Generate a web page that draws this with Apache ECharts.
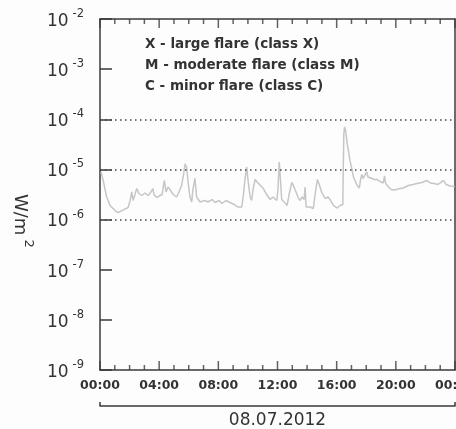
<!DOCTYPE html>
<html><head><meta charset="utf-8">
<script src="https://cdn.jsdelivr.net/npm/echarts@6/dist/echarts.min.js"></script>
<style>html,body{margin:0;padding:0;background:#fdfdfd}#c{width:456px;height:429px}</style>
</head><body><div id="c"></div>
<script>
// GOES X-ray flux, 08.07.2012 (W/m^2)
const times = ["00:04","00:12","00:27","00:41","01:01","01:13","01:21","01:37","01:54","02:02","02:09","02:14","02:22","02:29","02:38","02:49","03:03","03:15","03:27","03:34","03:39","03:50","04:03","04:12","04:21","04:28","04:36","04:44","04:57","05:11","05:20","05:31","05:39","05:45","05:51","05:58","06:05","06:12","06:17","06:25","06:32","06:46","07:06","07:18","07:34","07:47","08:03","08:15","08:31","08:47","09:04","09:20","09:35","09:42","09:48","09:55","10:00","10:09","10:15","10:21","10:29","10:37","10:45","11:01","11:16","11:30","11:42","11:57","12:02","12:07","12:12","12:17","12:31","12:39","12:47","12:58","13:07","13:15","13:23","13:31","13:40","13:48","13:52","13:56","14:12","14:25","14:34","14:42","14:48","14:59","15:13","15:25","15:33","15:47","16:02","16:14","16:25","16:27","16:29","16:32","16:36","16:43","16:54","17:02","17:08","17:21","17:32","17:37","17:42","17:47","17:55","18:02","18:07","18:19","18:32","18:43","18:56","19:09","19:14","19:18","19:30","19:41","19:53","20:09","20:29","20:51","21:10","21:26","21:46","22:05","22:19","22:35","22:51","23:03","23:13","23:24","23:40","23:59"];
const flux = [8.91e-6,6.31e-6,2.82e-6,1.91e-6,1.51e-6,1.38e-6,1.48e-6,1.58e-6,1.74e-6,2.40e-6,3.55e-6,2.40e-6,3.16e-6,4.17e-6,3.31e-6,3.02e-6,3.39e-6,3.02e-6,3.55e-6,4.17e-6,3.16e-6,2.75e-6,3.02e-6,3.16e-6,6.03e-6,3.55e-6,4.47e-6,3.98e-6,3.16e-6,2.82e-6,3.55e-6,4.79e-6,7.94e-6,1.29e-5,1.12e-5,5.25e-6,2.82e-6,2.24e-6,3.98e-6,6.61e-6,2.82e-6,2.24e-6,2.40e-6,2.24e-6,2.51e-6,2.19e-6,2.40e-6,2.09e-6,2.40e-6,2.19e-6,2.00e-6,1.78e-6,1.78e-6,3.16e-6,6.31e-6,1.12e-5,6.31e-6,2.82e-6,2.40e-6,3.98e-6,6.31e-6,5.62e-6,5.37e-6,4.27e-6,3.16e-6,2.51e-6,2.82e-6,2.40e-6,3.98e-6,1.41e-5,6.31e-6,2.51e-6,2.14e-6,1.91e-6,3.16e-6,5.50e-6,4.47e-6,3.55e-6,2.82e-6,2.40e-6,2.82e-6,2.51e-6,4.47e-6,1.78e-6,1.78e-6,1.66e-6,3.55e-6,6.31e-6,5.25e-6,3.55e-6,2.63e-6,2.82e-6,2.51e-6,1.91e-6,1.70e-6,1.91e-6,2.00e-6,1.26e-5,5.0e-5,7.08e-5,6.03e-5,3.24e-5,1.51e-5,1.0e-5,7.08e-6,5.01e-6,4.27e-6,6.31e-6,7.94e-6,6.61e-6,7.08e-6,8.91e-6,7.08e-6,6.76e-6,6.31e-6,6.31e-6,5.75e-6,5.37e-6,7.41e-6,5.37e-6,4.47e-6,3.98e-6,3.89e-6,4.07e-6,4.27e-6,4.79e-6,5.01e-6,5.25e-6,5.50e-6,6.03e-6,5.37e-6,5.25e-6,5.01e-6,5.50e-6,6.03e-6,5.01e-6,4.68e-6,4.57e-6];
const xTickLabels = ["00:00","04:00","08:00","12:00","16:00","20:00","00:00"];
const majorTickMinutes = [0, 240, 480, 720, 960, 1200, 1440];
const minorTickMinutes = [60,120,180, 300,360,420, 540,600,660, 780,840,900, 1020,1080,1140, 1260,1320,1380];
const thresholds = [1e-4, 1e-5, 1e-6];
const legendLines = ["X - large flare (class X)", "M - moderate flare (class M)", "C - minor flare (class C)"];
const dateLabel = "08.07.2012";
const dayStart = 0, dayEnd = 1440;
const yMin = 1e-9, yMax = 1e-2;

const toMin = t => { const [h, m] = t.split(':').map(Number); return h * 60 + m; };
const seriesData = times.map((t, i) => [toMin(t), flux[i]]);

const axisCol = '#3a3a3a';
const ls = () => ({ color: axisCol, width: 1.5 });
// tick marks: thin rect symbols on a hidden linear 0..1 frame axis (0 = bottom edge, 1 = top edge)
const tickSeries = (mins, edge, len, dir) => ({
  type: 'scatter', xAxisIndex: 0, yAxisIndex: 2, silent: true, clip: false, z: 5,
  symbol: 'rect', symbolSize: [1.5, len], symbolOffset: [0, dir * len / 2],
  itemStyle: { color: axisCol }, emphasis: { disabled: true },
  data: mins.map(m => [m, edge])
});

const chart = echarts.init(document.getElementById('c'));
chart.setOption({
  backgroundColor: '#fdfdfd',
  animation: false,
  grid: { left: 100, right: 1, top: 19, bottom: 59, containLabel: false, outerBoundsMode: 'none' },
  xAxis: [
    { type: 'value', min: dayStart, max: dayEnd, interval: 240, position: 'bottom',
      axisLine: { show: true, onZero: false, lineStyle: ls() },
      axisTick: { show: false }, splitLine: { show: false },
      axisLabel: { margin: 9, color: '#333', fontFamily: 'DejaVu Sans', fontWeight: 'bold', fontSize: 12.5,
        formatter: v => xTickLabels[Math.round(v / 240)] } },
    { type: 'value', min: dayStart, max: dayEnd, interval: 240, position: 'top',
      axisLine: { show: true, onZero: false, lineStyle: ls() },
      axisTick: { show: false }, axisLabel: { show: false }, splitLine: { show: false } },
    { type: 'value', min: dayStart, max: dayEnd, interval: dayEnd, position: 'bottom', offset: 36,
      axisLine: { show: true, onZero: false, lineStyle: ls() },
      axisTick: { show: true, inside: true, length: 4, lineStyle: ls() },
      splitLine: { show: false }, axisLabel: { show: false },
      name: dateLabel, nameLocation: 'middle', nameGap: 6,
      nameTextStyle: { color: '#333', fontFamily: 'DejaVu Sans', fontSize: 17 } }
  ],
  yAxis: [
    { type: 'log', logBase: 10, min: yMin, max: yMax, interval: 1,
      axisLine: { show: true, onZero: false, lineStyle: ls() },
      axisTick: { show: true, inside: true, length: 12, lineStyle: ls() },
      splitLine: { show: false },
      axisLabel: { margin: 16, formatter: v => '{b|10}{e|' + Math.round(Math.log10(v)) + '}',
        rich: { b: { fontSize: 17, color: '#333', fontFamily: 'DejaVu Sans', lineHeight: 22, verticalAlign: 'bottom' },
                e: { fontSize: 11.5, color: '#333', fontFamily: 'DejaVu Sans', padding: [0, 0, 0, 4], lineHeight: 14, verticalAlign: 'top' } } } },
    { type: 'log', logBase: 10, min: yMin, max: yMax, position: 'right',
      axisLine: { show: true, onZero: false, lineStyle: ls() },
      axisTick: { show: false }, axisLabel: { show: false }, splitLine: { show: false } },
    { type: 'value', min: 0, max: 1, show: false }
  ],
  graphic: [
    { type: 'text', left: 11, top: 194, rotation: -Math.PI / 2,
      style: { text: '{a|W/m}{s|2}', rich: { a: { fontSize: 18, fontFamily: 'DejaVu Sans', fill: '#333', lineHeight: 24, verticalAlign: 'bottom' }, s: { fontSize: 13, fontFamily: 'DejaVu Sans', fill: '#333', padding: [0,0,0,4], lineHeight: 15, verticalAlign: 'top' } } } }
  ].concat(legendLines.map((t, i) => ({ type: 'text', left: 145, top: 37 + i * 21,
      style: { text: t, fill: '#333', font: 'bold 13.5px "DejaVu Sans"' } }))),
  series: [
    {
      type: 'line', xAxisIndex: 0, yAxisIndex: 0, data: seriesData, showSymbol: false,
      lineStyle: { color: '#c6c6c6', width: 1.5 },
      markLine: { silent: true, symbol: 'none', label: { show: false },
        lineStyle: { color: '#444', type: [1.5, 3.5], width: 1.5 },
        data: thresholds.map(v => [{ coord: [dayStart, v] }, { coord: [dayEnd, v] }]) }
    },
    tickSeries(majorTickMinutes, 0, 9, -1),
    tickSeries(minorTickMinutes, 0, 5, -1),
    tickSeries(majorTickMinutes, 1, 9, 1),
    tickSeries(minorTickMinutes, 1, 5, 1)
  ]
});
</script></body></html>
